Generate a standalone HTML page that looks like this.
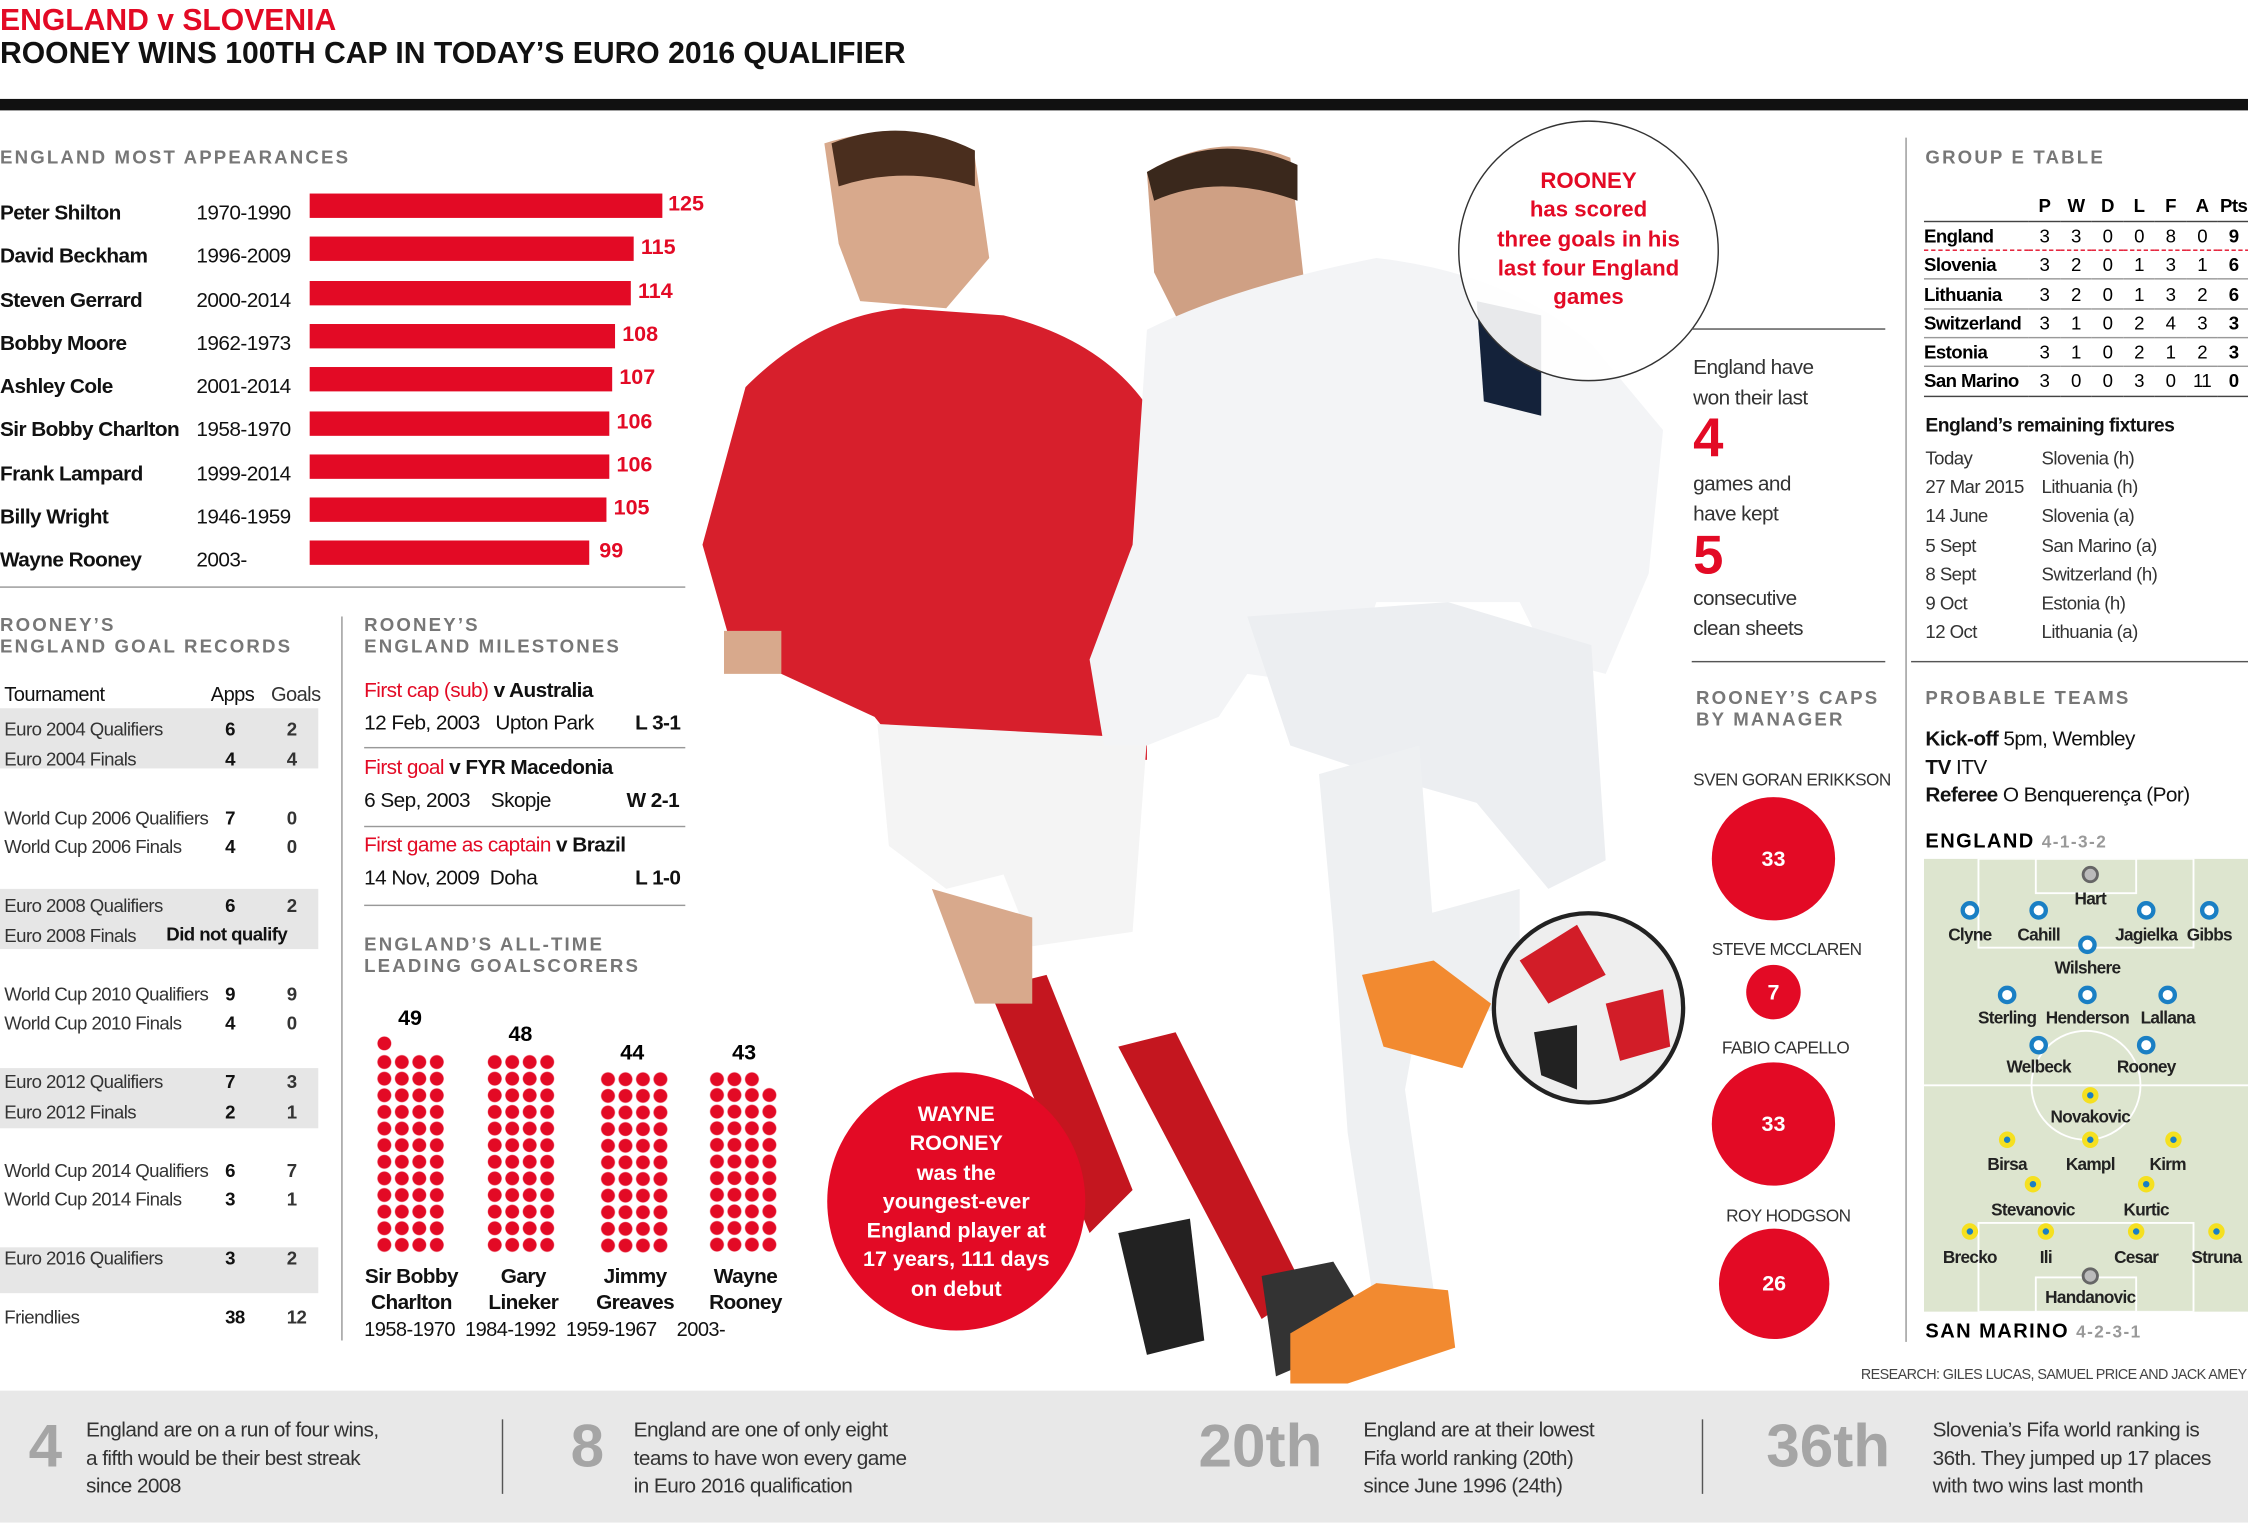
<!DOCTYPE html>
<html><head><meta charset="utf-8"><style>
*{margin:0;padding:0;box-sizing:border-box}
body{width:2248px;height:1536px;overflow:hidden;background:#fff;font-family:"Liberation Sans",sans-serif}
#w{position:absolute;left:0;top:0;width:1568px;height:1072px;transform:scale(1.43367);transform-origin:0 0}
.a{position:absolute;white-space:nowrap}
.h{font-weight:bold;color:#777;font-size:13px;letter-spacing:1.5px;line-height:15px}
.red{color:#e30a25}
.b{font-weight:bold}
.n{font-size:14.5px;color:#111;letter-spacing:-0.4px}
.bar{position:absolute;height:17px;background:#e30a25;left:216px}
.v{position:absolute;font-weight:bold;color:#e30a25;font-size:15px}
.t{font-size:13px;color:#333;letter-spacing:-0.4px}
.dots{position:absolute;width:48.8px;background:radial-gradient(circle,#e30a25 4.5px,transparent 5.1px);background-size:12.2px 11.6px}
.lab{position:absolute;width:30px;text-align:center;font-weight:bold;font-size:15px}
.gr{position:absolute;left:0;width:222px;background:#e6e6e6}
.cap{position:absolute;border-radius:50%;background:#e30a25;color:#fff;font-weight:bold;font-size:15px;display:flex;align-items:center;justify-content:center}
.tb td{font-size:13px;padding:0;height:20.3px;letter-spacing:-0.4px;text-align:center;width:22px}
.tb td:first-child{text-align:left;width:73px}
</style></head><body><div id="w">
<div class="a b red" style="left:0;top:3px;font-size:21px">ENGLAND v SLOVENIA</div>
<div class="a b" style="left:0;top:26px;font-size:21px;color:#111">ROONEY WINS 100TH CAP IN TODAY’S EURO 2016 QUALIFIER</div>
<div class="a" style="left:0;top:69px;width:1568px;height:8px;background:#111"></div>

<div class="a h" style="left:0;top:102px">ENGLAND MOST APPEARANCES</div>
<div class="a n b" style="left:0;top:134px;line-height:30.3px">Peter Shilton<br>David Beckham<br>Steven Gerrard<br>Bobby Moore<br>Ashley Cole<br>Sir Bobby Charlton<br>Frank Lampard<br>Billy Wright<br>Wayne Rooney</div>
<div class="a n" style="left:137px;top:134px;line-height:30.3px">1970-1990<br>1996-2009<br>2000-2014<br>1962-1973<br>2001-2014<br>1958-1970<br>1999-2014<br>1946-1959<br>2003-</div>
<div class="bar" style="top:135px;width:246px"></div><div class="v" style="left:466px;top:134px">125</div>
<div class="bar" style="top:165px;width:226px"></div><div class="v" style="left:447px;top:164px">115</div>
<div class="bar" style="top:196px;width:224px"></div><div class="v" style="left:445px;top:195px">114</div>
<div class="bar" style="top:226px;width:213px"></div><div class="v" style="left:434px;top:225px">108</div>
<div class="bar" style="top:256px;width:211px"></div><div class="v" style="left:432px;top:255px">107</div>
<div class="bar" style="top:287px;width:209px"></div><div class="v" style="left:430px;top:286px">106</div>
<div class="bar" style="top:317px;width:209px"></div><div class="v" style="left:430px;top:316px">106</div>
<div class="bar" style="top:347px;width:207px"></div><div class="v" style="left:428px;top:346px">105</div>
<div class="bar" style="top:377px;width:195px"></div><div class="v" style="left:418px;top:376px">99</div>
<div class="a" style="left:0;top:409px;width:478px;height:1px;background:#999"></div>

<div class="a h" style="left:0;top:428px">ROONEY’S<br>ENGLAND GOAL RECORDS</div>
<div class="gr" style="top:494px;height:42px"></div>
<div class="gr" style="top:620px;height:42px"></div>
<div class="gr" style="top:745px;height:42px"></div>
<div class="gr" style="top:870px;height:32px"></div>
<div class="a t" style="left:3px;top:476px;font-size:14px;color:#111">Tournament</div>
<div class="a t" style="left:147px;top:476px;font-size:14px;color:#111">Apps</div>
<div class="a t red" style="left:189px;top:476px;font-size:14px">Goals</div>
<div class="a t" style="left:3px;top:499px;line-height:20.5px">Euro 2004 Qualifiers<br>Euro 2004 Finals<br><br>World Cup 2006 Qualifiers<br>World Cup 2006 Finals<br><br>Euro 2008 Qualifiers<br>Euro 2008 Finals<br><br>World Cup 2010 Qualifiers<br>World Cup 2010 Finals<br><br>Euro 2012 Qualifiers<br>Euro 2012 Finals<br><br>World Cup 2014 Qualifiers<br>World Cup 2014 Finals<br><br>Euro 2016 Qualifiers<br><br>Friendlies</div>
<div class="a t b" style="left:157px;top:499px;line-height:20.5px;color:#111">6<br>4<br><br>7<br>4<br><br>6<br><br><br>9<br>4<br><br>7<br>2<br><br>6<br>3<br><br>3<br><br>38</div>
<div class="a t b red" style="left:200px;top:499px;line-height:20.5px">2<br>4<br><br>0<br>0<br><br>2<br><br><br>9<br>0<br><br>3<br>1<br><br>7<br>1<br><br>2<br><br>12</div>
<div class="a t b" style="left:116px;top:644px;color:#111">Did not qualify</div>

<div class="a" style="left:238px;top:430px;width:1px;height:505px;background:#999"></div>
<div class="a h" style="left:254px;top:428px">ROONEY’S<br>ENGLAND MILESTONES</div>
<div class="a n" style="left:254px;top:474px"><span class="red">First cap (sub)</span> <b>v Australia</b></div>
<div class="a n" style="left:254px;top:497px">12 Feb, 2003 &nbsp;&nbsp;Upton Park</div><div class="a n b" style="left:443px;top:497px">L 3-1</div>
<div class="a" style="left:254px;top:521px;width:224px;height:1px;background:#999"></div>
<div class="a n" style="left:254px;top:528px"><span class="red">First goal</span> <b>v FYR Macedonia</b></div>
<div class="a n" style="left:254px;top:551px">6 Sep, 2003 &nbsp;&nbsp;&nbsp;Skopje</div><div class="a n b" style="left:437px;top:551px">W 2-1</div>
<div class="a" style="left:254px;top:576px;width:224px;height:1px;background:#999"></div>
<div class="a n" style="left:254px;top:582px"><span class="red">First game as captain</span> <b>v Brazil</b></div>
<div class="a n" style="left:254px;top:605px">14 Nov, 2009 &nbsp;Doha</div><div class="a n b" style="left:443px;top:605px">L 1-0</div>
<div class="a" style="left:254px;top:631px;width:224px;height:1px;background:#999"></div>
<div class="a h" style="left:254px;top:651px">ENGLAND’S ALL-TIME<br>LEADING GOALSCORERS</div>
<div class="lab" style="left:271px;top:702px">49</div>
<div class="lab" style="left:348px;top:713px">48</div>
<div class="lab" style="left:426px;top:726px">44</div>
<div class="lab" style="left:504px;top:726px">43</div>
<div class="dots" style="left:262.4px;top:721.8px;width:12.2px;height:11.6px"></div>
<div class="dots" style="left:262.4px;top:734.7px;height:139.2px"></div>
<div class="dots" style="left:339.2px;top:734.7px;height:139.2px"></div>
<div class="dots" style="left:417.9px;top:746.8px;height:127.6px"></div>
<div class="dots" style="left:493.9px;top:746.8px;width:36.6px;height:11.6px"></div>
<div class="dots" style="left:493.9px;top:758.4px;height:116px"></div>
<div class="a n b" style="left:254px;top:882px;width:66px;text-align:center;line-height:18px;white-space:normal">Sir Bobby Charlton</div>
<div class="a n b" style="left:333px;top:882px;width:64px;text-align:center;line-height:18px;white-space:normal">Gary Lineker</div>
<div class="a n b" style="left:411px;top:882px;width:64px;text-align:center;line-height:18px;white-space:normal">Jimmy Greaves</div>
<div class="a n b" style="left:488px;top:882px;width:64px;text-align:center;line-height:18px;white-space:normal">Wayne Rooney</div>
<div class="a n" style="left:254px;top:919px;font-size:14px">1958-1970 &nbsp;1984-1992 &nbsp;1959-1967 &nbsp;&nbsp;&nbsp;2003-</div>

<svg class="a" style="left:480px;top:80px" width="700" height="895" viewBox="480 80 700 895">
<!-- red player -->
<path d="M575 100 Q640 80 680 110 L690 180 L660 215 L600 210 L585 170Z" fill="#d8a98c"/>
<path d="M580 100 Q630 80 680 105 L680 130 Q630 115 585 130Z" fill="#4a2e1e"/>
<path d="M520 270 Q570 220 630 215 L700 220 Q780 240 810 300 L830 450 L800 470 L800 530 L630 525 L610 500 L545 470 L510 450 L490 380 Z" fill="#d71f2c"/>
<path d="M505 440 L545 440 L545 470 L505 470Z" fill="#d8a98c"/>
<path d="M612 505 L800 515 L790 650 L720 660 L700 610 L660 620 L620 590Z" fill="#f4f4f4"/>
<path d="M690 690 L730 680 L790 830 L760 860 Z" fill="#c4161f"/>
<path d="M780 730 L820 720 L910 900 L880 920 Z" fill="#c4161f"/>
<path d="M780 860 L830 850 L840 935 L800 945Z" fill="#222"/>
<path d="M880 890 L930 880 L960 930 L890 960Z" fill="#333"/>
<path d="M650 620 L720 640 L720 700 L680 700Z" fill="#d8a98c"/>
<!-- white player -->
<path d="M800 120 Q850 90 900 110 L910 200 L880 240 L830 240 L805 190Z" fill="#cfa084"/>
<path d="M800 120 Q850 90 905 115 L905 140 Q850 120 805 140Z" fill="#3a281c"/>
<path d="M800 230 Q860 200 960 180 Q1050 190 1110 240 L1160 300 L1150 400 L1120 470 L1080 460 L1060 420 L960 420 L940 480 L870 470 L850 500 L800 520 L770 520 L760 460 L790 380 Z" fill="#f3f4f6"/>
<path d="M1030 210 L1075 220 L1075 290 L1035 280Z" fill="#14223a"/>
<path d="M870 430 L1010 420 L1110 450 L1120 600 L1080 620 L1030 560 L960 540 L900 520Z" fill="#eceef1"/>
<path d="M920 540 L990 520 L1000 650 L980 760 L1000 900 L960 920 L940 790 L930 650Z" fill="#eef0f2"/>
<path d="M950 650 L1060 620 L1060 700 L980 720Z" fill="#eef0f2"/>
<path d="M900 930 L960 895 L1010 900 L1015 940 L940 965 L900 965Z" fill="#f28a30"/>
<path d="M950 680 L1000 670 L1040 700 L1020 745 L965 730Z" fill="#f28a30"/>
<circle cx="1108" cy="703" r="66" fill="#eee" stroke="#222" stroke-width="3"/>
<path d="M1060 670 L1100 645 L1120 680 L1080 700Z" fill="#d21d28"/>
<path d="M1120 700 L1160 690 L1165 730 L1130 740Z" fill="#d21d28"/>
<path d="M1070 720 L1100 715 L1100 760 L1075 750Z" fill="#222"/>
</svg>
<div class="a" style="left:577px;top:748px;width:180px;height:180px;border-radius:50%;background:#e30a25"></div>
<div class="a b" style="left:577px;top:768px;width:180px;text-align:center;color:#fff;font-size:15px;line-height:20.3px">WAYNE<br>ROONEY<br>was the<br>youngest-ever<br>England player at<br>17 years, 111 days<br>on debut</div>
<div class="a" style="left:1017px;top:84px;width:182px;height:182px;border-radius:50%;border:1.5px solid #333;background:rgba(255,255,255,0.9)"></div>
<div class="a b red" style="left:1017px;top:117px;width:182px;text-align:center;font-size:15.5px;line-height:20.3px">ROONEY<br>has scored<br>three goals in his<br>last four England<br>games</div>

<div class="a" style="left:1180px;top:229px;width:135px;height:1px;background:#555"></div>
<div class="a n" style="left:1181px;top:247px;line-height:21px;color:#333">England have<br>won their last</div>
<div class="a b red" style="left:1181px;top:286px;font-size:38px;line-height:40px">4</div>
<div class="a n" style="left:1181px;top:328px;line-height:21px;color:#333">games and<br>have kept</div>
<div class="a b red" style="left:1181px;top:368px;font-size:38px;line-height:40px">5</div>
<div class="a n" style="left:1181px;top:408px;line-height:21px;color:#333">consecutive<br>clean sheets</div>
<div class="a" style="left:1180px;top:461px;width:135px;height:1px;background:#555"></div>
<div class="a h" style="left:1183px;top:479px">ROONEY’S CAPS<br>BY MANAGER</div>
<div class="a t" style="left:1181px;top:537px;font-size:12px">SVEN GORAN ERIKKSON</div>
<div class="cap" style="left:1194px;top:556px;width:86px;height:86px">33</div>
<div class="a t" style="left:1194px;top:655px;font-size:12px">STEVE MCCLAREN</div>
<div class="cap" style="left:1218px;top:673px;width:38px;height:38px">7</div>
<div class="a t" style="left:1201px;top:724px;font-size:12px">FABIO CAPELLO</div>
<div class="cap" style="left:1194px;top:741px;width:86px;height:86px">33</div>
<div class="a t" style="left:1204px;top:841px;font-size:12px">ROY HODGSON</div>
<div class="cap" style="left:1199px;top:857px;width:77px;height:77px">26</div>

<div class="a" style="left:1329px;top:96px;width:1px;height:840px;background:#999"></div>
<div class="a h" style="left:1343px;top:102px">GROUP E TABLE</div>
<table class="a tb" style="left:1342px;top:134px;border-collapse:collapse;width:227px;table-layout:fixed">
<tr class="b"><td></td><td>P</td><td>W</td><td>D</td><td>L</td><td>F</td><td>A</td><td>Pts</td></tr>
<tr style="border-top:1px solid #444;border-bottom:1px dashed #e30a25"><td class="b">England</td><td>3</td><td>3</td><td>0</td><td>0</td><td>8</td><td>0</td><td class="b">9</td></tr>
<tr style="border-bottom:1px solid #999"><td class="b">Slovenia</td><td>3</td><td>2</td><td>0</td><td>1</td><td>3</td><td>1</td><td class="b">6</td></tr>
<tr style="border-bottom:1px solid #999"><td class="b">Lithuania</td><td>3</td><td>2</td><td>0</td><td>1</td><td>3</td><td>2</td><td class="b">6</td></tr>
<tr style="border-bottom:1px solid #999"><td class="b">Switzerland</td><td>3</td><td>1</td><td>0</td><td>2</td><td>4</td><td>3</td><td class="b">3</td></tr>
<tr style="border-bottom:1px solid #999"><td class="b">Estonia</td><td>3</td><td>1</td><td>0</td><td>2</td><td>1</td><td>2</td><td class="b">3</td></tr>
<tr style="border-bottom:1px solid #444"><td class="b">San Marino</td><td>3</td><td>0</td><td>0</td><td>3</td><td>0</td><td>11</td><td class="b">0</td></tr>
</table>
<div class="a n b" style="left:1343px;top:289px;font-size:13.5px">England’s remaining fixtures</div>
<div class="a t" style="left:1343px;top:310px;line-height:20.2px">Today<br>27 Mar 2015<br>14 June<br>5 Sept<br>8 Sept<br>9 Oct<br>12 Oct</div>
<div class="a t" style="left:1424px;top:310px;line-height:20.2px">Slovenia (h)<br>Lithuania (h)<br>Slovenia (a)<br>San Marino (a)<br>Switzerland (h)<br>Estonia (h)<br>Lithuania (a)</div>
<div class="a" style="left:1333px;top:461px;width:235px;height:1px;background:#555"></div>
<div class="a h" style="left:1343px;top:479px">PROBABLE TEAMS</div>
<div class="a n" style="left:1343px;top:507px;line-height:19.5px"><b>Kick-off</b> 5pm, Wembley<br><b>TV</b> ITV<br><b>Referee</b> O Benquerença (Por)</div>
<div class="a b" style="left:1343px;top:578px;font-size:14px;letter-spacing:1px">ENGLAND <span style="color:#999;font-size:12px">4-1-3-2</span></div>
<svg class="a" style="left:1342px;top:599px" width="226" height="316" viewBox="0 0 226 316">
<rect width="226" height="316" fill="#dde5cf"/>
<g fill="none" stroke="#fff" stroke-width="1.3">
<line x1="0" y1="158" x2="226" y2="158"/><circle cx="113" cy="158" r="38"/>
<rect x="38" y="0" width="150" height="62"/><rect x="78" y="0" width="70" height="24"/>
<rect x="38" y="254" width="150" height="62"/><rect x="78" y="292" width="70" height="24"/>
</g>
<g fill="#fff" stroke="#1a7fc4" stroke-width="3">
<circle cx="32" cy="36" r="5"/><circle cx="80" cy="36" r="5"/><circle cx="155" cy="36" r="5"/><circle cx="199" cy="36" r="5"/><circle cx="114" cy="60" r="5"/>
<circle cx="58" cy="95" r="5"/><circle cx="114" cy="95" r="5"/><circle cx="170" cy="95" r="5"/><circle cx="80" cy="130" r="5"/><circle cx="155" cy="130" r="5"/>
</g>
<circle cx="116" cy="11" r="5" fill="#bbb" stroke="#666" stroke-width="2"/>
<circle cx="116" cy="291" r="5" fill="#bbb" stroke="#666" stroke-width="2"/>
<g fill="#1a7fc4" stroke="#f5e020" stroke-width="3.5">
<circle cx="116" cy="165" r="4"/><circle cx="58" cy="196" r="4"/><circle cx="116" cy="196" r="4"/><circle cx="174" cy="196" r="4"/>
<circle cx="76" cy="227" r="4"/><circle cx="155" cy="227" r="4"/><circle cx="32" cy="260" r="4"/><circle cx="85" cy="260" r="4"/><circle cx="148" cy="260" r="4"/><circle cx="204" cy="260" r="4"/>
</g>
<g font-family="Liberation Sans" font-size="12" font-weight="bold" fill="#222" text-anchor="middle" letter-spacing="-0.5">
<text x="116" y="32">Hart</text><text x="32" y="57">Clyne</text><text x="80" y="57">Cahill</text><text x="155" y="57">Jagielka</text><text x="199" y="57">Gibbs</text>
<text x="114" y="80">Wilshere</text><text x="58" y="115">Sterling</text><text x="114" y="115">Henderson</text><text x="170" y="115">Lallana</text>
<text x="80" y="149">Welbeck</text><text x="155" y="149">Rooney</text><text x="116" y="184">Novakovic</text>
<text x="58" y="217">Birsa</text><text x="116" y="217">Kampl</text><text x="170" y="217">Kirm</text>
<text x="76" y="249">Stevanovic</text><text x="155" y="249">Kurtic</text>
<text x="32" y="282">Brecko</text><text x="85" y="282">Ili</text><text x="148" y="282">Cesar</text><text x="204" y="282">Struna</text>
<text x="116" y="310">Handanovic</text></g>
</svg>
<div class="a b" style="left:1343px;top:920px;font-size:14px;letter-spacing:1px">SAN MARINO <span style="color:#999;font-size:12px">4-2-3-1</span></div>
<div class="a t" style="left:1298px;top:954px;font-size:10px;color:#444">RESEARCH: GILES LUCAS, SAMUEL PRICE AND JACK AMEY</div>

<div class="a" style="left:0;top:970px;width:1568px;height:92px;background:#e8e8e8"></div>
<div class="a b" style="left:20px;top:985px;font-size:42px;color:#a5a5a5">4</div>
<div class="a n" style="left:60px;top:989px;line-height:19.5px;color:#333">England are on a run of four wins,<br>a fifth would be their best streak<br>since 2008</div>
<div class="a" style="left:350px;top:990px;width:1px;height:52px;background:#555"></div>
<div class="a b" style="left:398px;top:985px;font-size:42px;color:#a5a5a5">8</div>
<div class="a n" style="left:442px;top:989px;line-height:19.5px;color:#333">England are one of only eight<br>teams to have won every game<br>in Euro 2016 qualification</div>
<div class="a b" style="left:836px;top:985px;font-size:42px;color:#a5a5a5">20th</div>
<div class="a n" style="left:951px;top:989px;line-height:19.5px;color:#333">England are at their lowest<br>Fifa world ranking (20th)<br>since June 1996 (24th)</div>
<div class="a" style="left:1187px;top:990px;width:1px;height:52px;background:#555"></div>
<div class="a b" style="left:1232px;top:985px;font-size:42px;color:#a5a5a5">36th</div>
<div class="a n" style="left:1348px;top:989px;line-height:19.5px;color:#333">Slovenia’s Fifa world ranking is<br>36th. They jumped up 17 places<br>with two wins last month</div>
</div></body></html>
